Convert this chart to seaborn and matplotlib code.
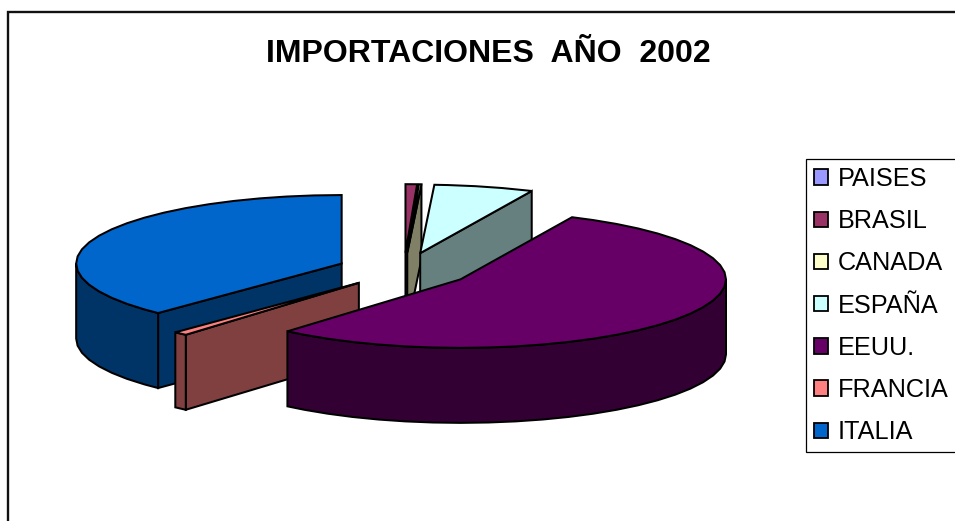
import numpy as np
import matplotlib
matplotlib.use("Agg")
import matplotlib.pyplot as plt
from matplotlib.patches import Patch
import seaborn as sns

# Import shares per country, percent of the 2002 total
countries = ["PAISES", "BRASIL", "CANADA", "ESPAÑA", "EEUU.", "FRANCIA", "ITALIA"]
shares = [0.0, 0.7, 0.15, 6.05, 54.4, 0.85, 37.85]
top_colors = ["#9999FF", "#993366", "#FFFFCC", "#CCFFFF", "#660066", "#FF8080", "#0066CC"]
wall_colors = ["#4C4C80", "#4C1A33", "#808066", "#668080", "#330033", "#804040", "#003366"]
title_text = "IMPORTACIONES  AÑO  2002"

# Pie geometry in pixel units of the figure canvas
CX, CY = 404.0, 270.0
RX, RY = 265.5, 68.5
DEPTH = 75.0
EXPLODE = 0.253
LW = 1.45
ARC_STEP = 6  # degrees per chord, gives the arcs their slightly faceted look

sns.set_theme(style="white")
plt.rcParams["font.family"] = ["Liberation Sans", "DejaVu Sans"]
plt.rcParams["text.color"] = "black"
top_palette = sns.color_palette(top_colors)
wall_palette = sns.color_palette(wall_colors)

fig = plt.figure(figsize=(9.55, 5.21), dpi=100, facecolor="white")
ax = fig.add_axes([0, 0, 1, 1])
ax.set_xlim(0, 955)
ax.set_ylim(521, 0)
ax.axis("off")

# Outer chart frame, cut off by the right and bottom canvas edges
ax.plot([8, 8, 960], [530, 11.5, 11.5], color="#111111", lw=1.7, solid_joinstyle="miter")


def ellipse_xy(cx, cy, deg):
    rad = np.radians(deg)
    return cx + RX * np.cos(rad), cy - RY * np.sin(rad)


def face(xs, ys, color, z):
    ax.fill(xs, ys, facecolor=color, edgecolor="black", lw=LW, joinstyle="miter", zorder=z)


def arc_angles(lo, hi):
    steps = np.arange(np.ceil(lo / ARC_STEP), np.floor(hi / ARC_STEP) + 1) * ARC_STEP
    return np.unique(np.r_[lo, steps, hi])


# Slices run clockwise from twelve o'clock; angles are stored counter-clockwise
fractions = np.array(shares) / sum(shares)
ends = 90 - 360 * np.cumsum(fractions)
starts = np.concatenate([[90], ends[:-1]])

slices = {}
for i, (hi, lo) in enumerate(zip(starts, ends)):
    if fractions[i] == 0:
        continue
    mid = np.radians((hi + lo) / 2)
    cx = CX + EXPLODE * RX * np.cos(mid)
    cy = CY - EXPLODE * RY * np.sin(mid)
    slices[i] = (lo, hi, cx, cy)

# Back slices first, the big front slice last
paint_order = [countries.index(n) for n in ["BRASIL", "CANADA", "ESPAÑA", "ITALIA", "FRANCIA", "EEUU."]]
for rank, i in enumerate(paint_order):
    lo, hi, cx, cy = slices[i]
    z = 3 + rank
    wall = wall_palette[i]
    top = top_palette[i]

    # Radial walls facing the viewer
    for deg, visible in ((lo, np.cos(np.radians(lo)) > 1e-6), (hi, np.cos(np.radians(hi)) < -1e-6)):
        if visible:
            ox, oy = ellipse_xy(cx, cy, deg)
            face([cx, ox, ox, cx], [cy, oy, oy + DEPTH, cy + DEPTH], wall, z)

    # Outer rim: only the part of the arc on the near half of the ellipse
    angles = arc_angles(lo, hi)
    near = np.sin(np.radians(angles)) <= 1e-9
    if near.any():
        ax_, ay_ = ellipse_xy(cx, cy, angles[near])
        face(np.r_[ax_, ax_[::-1]], np.r_[ay_, ay_[::-1] + DEPTH], wall, z)

    # Top face
    tx, ty = ellipse_xy(cx, cy, angles)
    face(np.r_[cx, tx], np.r_[cy, ty], top, z)

ax.text(488, 54.5, title_text, ha="center", va="center", fontsize=23,
        fontweight="bold", color="black")

handles = [Patch(facecolor=top_palette[i], edgecolor="black", lw=1.3) for i in range(len(countries))]
legend = ax.legend(handles, countries, loc="upper left", bbox_to_anchor=(806, 159),
                   bbox_transform=ax.transData, fontsize=18.2, frameon=True, fancybox=False,
                   edgecolor="black", framealpha=1, borderaxespad=0, borderpad=0.32,
                   labelspacing=0.72, handlelength=0.56, handleheight=0.56, handletextpad=0.38,
                   labelcolor="black")
legend.get_frame().set_linewidth(0.9)
legend.set_zorder(20)

fig.savefig("out.png", dpi=100, facecolor="white")
